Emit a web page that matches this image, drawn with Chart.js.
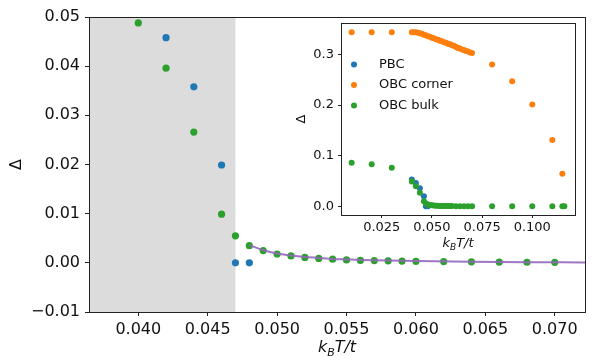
<!DOCTYPE html>
<html>
<head>
<meta charset="utf-8">
<script src="https://cdn.jsdelivr.net/npm/chart.js@4.4.0/dist/chart.umd.min.js"></script>
<style>
body { margin: 0; background: #fff; }
#wrap { position: relative; width: 593px; height: 356px; }
#main { position: absolute; left: 0; top: 0; }
#inset { position: absolute; left: 290px; top: 11px; }
</style>
</head>
<body>
<div id="wrap">
<canvas id="main" width="593" height="356"></canvas>
<canvas id="inset" width="295" height="249"></canvas>
</div>
<script>
// values
const pbcT   = [0.040, 0.042, 0.044, 0.046, 0.047, 0.048];
const pbcGap = [0.053, 0.0458, 0.0358, 0.0199, 0.0, 0.0];

const bulkT = [0.010, 0.020, 0.030, 0.040, 0.042, 0.044, 0.046, 0.047,
  0.048, 0.049, 0.050, 0.051, 0.052, 0.053, 0.054, 0.055, 0.056, 0.057, 0.058, 0.059, 0.060,
  0.062, 0.064, 0.066, 0.068, 0.070, 0.080, 0.090, 0.100, 0.110, 0.115, 0.116];
const bulkGap = [0.086, 0.083, 0.076, 0.0488, 0.0396, 0.0266, 0.0099, 0.0055,
  0.0035, 0.0025, 0.0018, 0.0014, 0.0011, 0.0009, 0.00075, 0.0006, 0.0005, 0.00045, 0.0004, 0.00035, 0.0003,
  0.00025, 0.0002, 0.00015, 0.00012, 0.0001, 0, 0, 0, 0, 0, 0];

const cornerT = [0.010, 0.020, 0.030,
  0.040, 0.041, 0.042, 0.043, 0.044, 0.045, 0.046, 0.047, 0.048, 0.049, 0.050,
  0.051, 0.052, 0.053, 0.054, 0.055, 0.056, 0.057, 0.058, 0.059, 0.060,
  0.061, 0.062, 0.063, 0.064, 0.065, 0.066, 0.067, 0.068, 0.069, 0.070,
  0.080, 0.090, 0.100, 0.110, 0.115];
const cornerGap = [0.344, 0.344, 0.344,
  0.344, 0.344, 0.344, 0.343, 0.342, 0.341, 0.339, 0.338, 0.336, 0.335, 0.333,
  0.332, 0.330, 0.329, 0.327, 0.326, 0.324, 0.323, 0.321, 0.320, 0.318,
  0.317, 0.315, 0.313, 0.312, 0.310, 0.309, 0.307, 0.306, 0.304, 0.303,
  0.280, 0.247, 0.201, 0.131, 0.0645];

// fitted curve (purple)
const fitT   = [0.048, 0.049, 0.050, 0.051, 0.052, 0.053, 0.054, 0.055, 0.056, 0.058, 0.060, 0.064, 0.068, 0.072, 0.073];
const fitGap = [0.0036, 0.0026, 0.0019, 0.0015, 0.0012, 0.0010, 0.0008, 0.0007, 0.0006, 0.00045, 0.00035, 0.0002, 0.00012, 0.00008, 0.00007];

const shadeEnd = 0.047;

const mainXTicks = [0.040, 0.045, 0.050, 0.055, 0.060, 0.065, 0.070];
const mainYTicks = [-0.01, 0.00, 0.01, 0.02, 0.03, 0.04, 0.05];
const insetXTicks = [0.025, 0.050, 0.075, 0.100];
const insetYTicks = [0.0, 0.1, 0.2, 0.3];

const legendLabels = ['PBC', 'OBC corner', 'OBC bulk'];

const BLUE = '#1f77b4', ORANGE = '#ff7f0e', GREEN = '#2ca02c', PURPLE = 'rgba(148,103,189,0.9)';
const FONT = '"DejaVu Sans", sans-serif';

function pts(xs, ys) { return xs.map((x, i) => ({ x: x, y: ys[i] })); }
function fmt(v, d) { return v.toFixed(d).replace('-', '\u2212'); }

function axis(min, max, ticks, digits, size, tickLen, pad, isY, box) {
  return {
    type: 'linear', min: min, max: max,
    afterBuildTicks: s => { s.ticks = ticks.map(v => ({ value: v })); },
    afterFit: s => { if (isY) s.width = box; else s.height = box; },
    grid: { display: true, drawOnChartArea: false, drawTicks: true, tickLength: tickLen, color: '#222', lineWidth: 1 },
    border: { display: false },
    ticks: {
      font: { family: FONT, size: size }, color: '#111', padding: pad,
      maxRotation: 0, autoSkip: false, callback: v => fmt(v, digits)
    }
  };
}

function drawKBT(ctx, cx, base, size) {
  const it = 'italic ' + size + 'px ' + FONT;
  const sub = 'italic ' + Math.round(size * 0.7) + 'px ' + FONT;
  ctx.font = it;
  const wk = ctx.measureText('k').width, wt = ctx.measureText('T/t').width;
  ctx.font = sub;
  const wb = ctx.measureText('B').width;
  let x = cx - (wk + wb + wt) / 2;
  ctx.textAlign = 'left';
  ctx.textBaseline = 'alphabetic';
  ctx.fillStyle = '#111';
  ctx.font = it; ctx.fillText('k', x, base); x += wk;
  ctx.font = sub; ctx.fillText('B', x, base + size * 0.22); x += wb;
  ctx.font = it; ctx.fillText('T/t', x, base);
}

function drawDelta(ctx, x, y, size) {
  ctx.save();
  ctx.translate(x, y);
  ctx.rotate(-Math.PI / 2);
  ctx.font = size + 'px ' + FONT;
  ctx.fillStyle = '#111';
  ctx.textAlign = 'center';
  ctx.textBaseline = 'middle';
  ctx.fillText('\u0394', 0, 0);
  ctx.restore();
}

const decor = {
  id: 'decor',
  beforeDatasetsDraw(chart, args, o) {
    const a = chart.chartArea, ctx = chart.ctx;
    ctx.save();
    if (o.fillWhite) {
      ctx.fillStyle = '#fff';
      ctx.fillRect(a.left, a.top, a.right - a.left, a.bottom - a.top);
    }
    if (o.shade) {
      const xe = chart.scales.x.getPixelForValue(shadeEnd);
      ctx.fillStyle = '#dcdcdc';
      ctx.fillRect(a.left, a.top, xe - a.left, a.bottom - a.top);
    }
    ctx.restore();
  },
  afterDraw(chart, args, o) {
    const a = chart.chartArea, ctx = chart.ctx;
    ctx.save();
    ctx.strokeStyle = '#222';
    ctx.lineWidth = 1;
    ctx.strokeRect(Math.round(a.left) + 0.5, Math.round(a.top) + 0.5,
      Math.round(a.right - a.left), Math.round(a.bottom - a.top));
    drawKBT(ctx, (a.left + a.right) / 2, o.xBase, o.size);
    drawDelta(ctx, o.yX, (a.top + a.bottom) / 2, o.size);
    if (o.legend) {
      ctx.font = o.size + 'px ' + FONT;
      ctx.textAlign = 'left';
      ctx.textBaseline = 'middle';
      legendLabels.forEach((lab, i) => {
        const y = o.legend.y + i * o.legend.dy;
        ctx.fillStyle = [BLUE, ORANGE, GREEN][i];
        ctx.beginPath();
        ctx.arc(o.legend.x, y, 3, 0, Math.PI * 2);
        ctx.fill();
        ctx.fillStyle = '#111';
        ctx.fillText(lab, o.legend.tx, y);
      });
    }
    ctx.restore();
  }
};

Chart.defaults.font.family = FONT;

new Chart(document.getElementById('main'), {
  type: 'scatter',
  data: {
    datasets: [
      { label: 'fit', type: 'line', data: pts(fitT, fitGap), showLine: true, borderColor: PURPLE,
        borderWidth: 2, pointRadius: 0, cubicInterpolationMode: 'monotone', order: 0 },
      { label: 'OBC bulk', data: pts(bulkT, bulkGap), backgroundColor: GREEN, pointRadius: 3.6,
        pointBorderWidth: 0, order: 1 },
      { label: 'PBC', data: pts(pbcT, pbcGap), backgroundColor: BLUE, pointRadius: 3.6,
        pointBorderWidth: 0, order: 2 }
    ]
  },
  options: {
    responsive: false, animation: false, devicePixelRatio: 1,
    layout: { padding: { left: 0, top: 17, right: 8, bottom: 0 } },
    plugins: {
      legend: { display: false }, tooltip: { enabled: false },
      decor: { shade: true, size: 16, xBase: 352, yX: 16.5 }
    },
    scales: {
      x: axis(0.03645, 0.07218, mainXTicks, 3, 16, 4, 4, false, 44),
      y: axis(-0.01, 0.05, mainYTicks, 2, 16, 4, 5, true, 89)
    }
  },
  plugins: [decor]
});

new Chart(document.getElementById('inset'), {
  type: 'scatter',
  data: {
    datasets: [
      { label: 'OBC bulk', data: pts(bulkT, bulkGap), backgroundColor: GREEN, pointRadius: 3,
        pointBorderWidth: 0, order: 0 },
      { label: 'OBC corner', data: pts(cornerT, cornerGap), backgroundColor: ORANGE, pointRadius: 3,
        pointBorderWidth: 0, order: 1 },
      { label: 'PBC', data: pts(pbcT, pbcGap), backgroundColor: BLUE, pointRadius: 3,
        pointBorderWidth: 0, order: 2 }
    ]
  },
  options: {
    responsive: false, animation: false, devicePixelRatio: 1,
    layout: { padding: { left: 0, top: 12, right: 10, bottom: 0 } },
    plugins: {
      legend: { display: false }, tooltip: { enabled: false },
      decor: { fillWhite: true, size: 13, xBase: 236, yX: 11.7,
        legend: { x: 64, tx: 89, y: 53.5, dy: 20.5 } }
    },
    scales: {
      x: axis(0.0047, 0.1213, insetXTicks, 3, 13, 3, 2, false, 45),
      y: axis(-0.01725, 0.3622, insetYTicks, 1, 13, 3, 4, true, 51)
    }
  },
  plugins: [decor]
});
</script>
</body>
</html>
